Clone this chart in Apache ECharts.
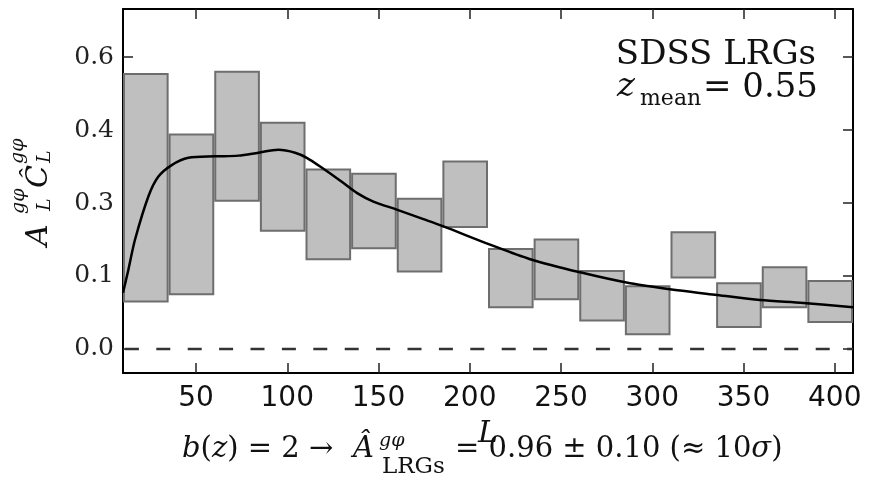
<!DOCTYPE html>
<html>
<head>
<meta charset="utf-8">
<script src="https://cdn.jsdelivr.net/npm/echarts@6/dist/echarts.min.js"></script>
<style>
html,body{margin:0;padding:0;background:#fff;}
#chart{width:869px;height:482px;}
</style>
</head>
<body>
<div id="chart"></div>
<script>
// ---- data ----
const binEdges = [10,35,60,85,110,135,160,185,210,235,260,285,310,335,360,385,410];
const barTop    = [0.377,0.294,0.380,0.310,0.246,0.240,0.206,0.257,0.137,0.150,0.107,0.086,0.160,0.090,0.112,0.093];
const barBottom = [0.065,0.075,0.203,0.162,0.123,0.138,0.106,0.167,0.057,0.068,0.039,0.020,0.098,0.030,0.057,0.037];
const curveL = [10,12.9,16.6,23.9,29.3,36.7,45.8,60.4,73.2,84.2,95.1,104.3,110.7,119.8,128.9,138.1,147.2,160,174.6,185.6,211.1,233.1,260.5,287.9,315.3,335.4,359.1,382.9,410];
const curveV = [0.077,0.108,0.150,0.209,0.236,0.252,0.262,0.264,0.265,0.269,0.273,0.269,0.262,0.247,0.231,0.214,0.202,0.191,0.178,0.168,0.143,0.123,0.105,0.090,0.080,0.074,0.067,0.063,0.057];
const zeroLevel = 0;
const xTicks = [50,100,150,200,250,300,350,400];
const yTickValues = [0,0.1,0.2,0.3,0.4];
const yTickLabels = ['0.0','0.1','0.3','0.4','0.6'];
const xRange = [10,410];
const yRange = [-0.033,0.466];

const barData = barTop.map((t,i)=>[binEdges[i],binEdges[i+1],barBottom[i],t]);
const curveData = curveL.map((l,i)=>[l,curveV[i]]);
const zeroData = [[xRange[0],zeroLevel],[xRange[1],zeroLevel]];

const SERIF = '"DejaVu Serif"';
const chart = echarts.init(document.getElementById('chart'));

const axisLineStyle = {show:true, onZero:false, lineStyle:{color:'#000', width:2}};
const tickStyle = {show:true, inside:true, length:10, lineStyle:{color:'#222', width:1.5}};

const option = {
  backgroundColor:'#fff',
  animation:false,
  grid:{left:123, right:16, top:9, bottom:109, outerBoundsMode:'none', containLabel:false},
  xAxis:[
    {type:'value', min:xRange[0], max:xRange[1], position:'bottom',
     axisLine:axisLineStyle,
     axisTick:Object.assign({customValues:xTicks}, tickStyle),
     axisLabel:{customValues:xTicks, margin:12, color:'#111', fontFamily:'DejaVu Sans', fontSize:28},
     splitLine:{show:false}},
    {type:'value', min:xRange[0], max:xRange[1], position:'top',
     axisLine:axisLineStyle,
     axisTick:Object.assign({customValues:xTicks}, tickStyle),
     axisLabel:{show:false}, splitLine:{show:false}}
  ],
  yAxis:[
    {type:'value', min:yRange[0], max:yRange[1], position:'left',
     axisLine:axisLineStyle,
     axisTick:Object.assign({customValues:yTickValues}, tickStyle),
     axisLabel:{customValues:yTickValues, margin:9, color:'#222', fontFamily:'DejaVu Serif', fontSize:25,
       formatter:function(v){const i=yTickValues.findIndex(t=>Math.abs(t-v)<1e-6); return i>=0?yTickLabels[i]:'';}},
     splitLine:{show:false}},
    {type:'value', min:yRange[0], max:yRange[1], position:'right',
     axisLine:axisLineStyle,
     axisTick:Object.assign({customValues:yTickValues}, tickStyle),
     axisLabel:{show:false}, splitLine:{show:false}}
  ],
  series:[
    {type:'custom', xAxisIndex:0, yAxisIndex:0, clip:true, z:2,
     data:barData,
     encode:{x:[0,1], y:[2,3]},
     renderItem:function(params, api){
       const p0 = api.coord([api.value(0), api.value(3)]);
       const p1 = api.coord([api.value(1), api.value(2)]);
       return {type:'rect',
         shape:{x:p0[0]+1, y:p0[1], width:p1[0]-p0[0]-2, height:p1[1]-p0[1]},
         style:{fill:'#bfbfbf', stroke:'#6e6e6e', lineWidth:2}};
     }},
    {type:'line', xAxisIndex:0, yAxisIndex:0, data:zeroData, showSymbol:false, z:3,
     lineStyle:{color:'#333', width:2.5, type:[14,17.4], dashOffset:29.5}},
    {type:'line', xAxisIndex:0, yAxisIndex:0, data:curveData, showSymbol:false, smooth:0.3, z:4, clip:true,
     lineStyle:{color:'#000', width:2.5}}
  ],
  graphic:[
    // x-axis name
    {type:'text', x:488, y:434, style:{text:'L', fill:'#111', font:'italic 30px '+SERIF, align:'center', verticalAlign:'middle'}},
    // y-axis name (rotated)
    {type:'group', x:39, y:246, rotation:Math.PI/2, children:[
      {type:'text', x:0, y:0, style:{text:'A', fill:'#111', font:'italic 30px '+SERIF, align:'left', verticalAlign:'middle'}},
      {type:'text', x:32, y:-20, style:{text:'gφ', fill:'#111', font:'italic 19px '+SERIF, align:'left', verticalAlign:'middle'}},
      {type:'text', x:35, y:6, style:{text:'L', fill:'#111', font:'italic 19px '+SERIF, align:'left', verticalAlign:'middle'}},
      {type:'text', x:58, y:0, style:{text:'Ĉ', fill:'#111', font:'italic 30px '+SERIF, align:'left', verticalAlign:'middle'}},
      {type:'text', x:82, y:-21, style:{text:'gφ', fill:'#111', font:'italic 19px '+SERIF, align:'left', verticalAlign:'middle'}},
      {type:'text', x:83, y:6, style:{text:'L', fill:'#111', font:'italic 19px '+SERIF, align:'left', verticalAlign:'middle'}}
    ]},
    // annotation top-right
    {type:'text', x:816, y:55, style:{text:'SDSS LRGs', fill:'#111', font:'34px '+SERIF, align:'right', verticalAlign:'middle'}},
    {type:'text', x:617, y:87, style:{text:'z', fill:'#111', font:'italic 34px '+SERIF, align:'left', verticalAlign:'middle'}},
    {type:'text', x:640, y:99, style:{text:'mean', fill:'#111', font:'22px '+SERIF, align:'left', verticalAlign:'middle'}},
    {type:'text', x:818, y:88, style:{text:'= 0.55', fill:'#111', font:'34px '+SERIF, align:'right', verticalAlign:'middle'}},
    // bottom formula
    {type:'text', x:182, y:449, style:{
      text:'{i|b}{r|(}{i|z}{r|) = 2 → }', fill:'#111', align:'left', verticalAlign:'middle',
      rich:{i:{fontStyle:'italic', fontSize:29, fontFamily:'DejaVu Serif', fill:'#111'},
            r:{fontSize:29, fontFamily:'DejaVu Serif', fill:'#111'}}}},
    {type:'text', x:353, y:449, style:{text:'Â', fill:'#111', font:'italic 29px '+SERIF, align:'left', verticalAlign:'middle'}},
    {type:'text', x:379, y:441, style:{text:'gφ', fill:'#111', font:'italic 19px '+SERIF, align:'left', verticalAlign:'middle'}},
    {type:'text', x:382, y:467, style:{text:'LRGs', fill:'#111', font:'23px '+SERIF, align:'left', verticalAlign:'middle'}},
    {type:'text', x:455, y:449, style:{
      text:'{r|= 0.96 ± 0.10 (≈ 10}{i|σ}{r|)}', fill:'#111', align:'left', verticalAlign:'middle',
      rich:{i:{fontStyle:'italic', fontSize:29, fontFamily:'DejaVu Serif', fill:'#111'},
            r:{fontSize:29, fontFamily:'DejaVu Serif', fill:'#111'}}}}
  ]
};
chart.setOption(option);
</script>
</body>
</html>
